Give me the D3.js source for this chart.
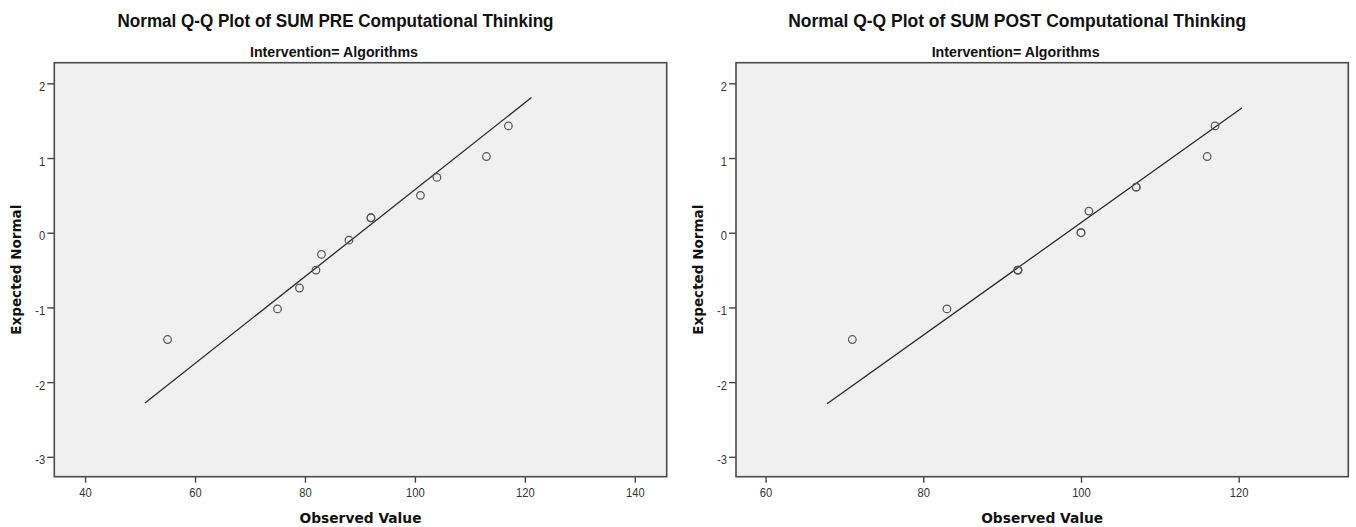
<!DOCTYPE html>
<html>
<head>
<meta charset="utf-8">
<script src="https://cdn.jsdelivr.net/npm/d3@7"></script>
<style>
  html, body { margin: 0; padding: 0; background: #fff; }
  svg { display: block; }
</style>
</head>
<body>
<svg id="chart" width="1356" height="527"></svg>
<script>
// ---- Data ----
const preObserved  = [55, 75, 79, 82, 83, 88, 92, 92, 101, 104, 113, 117];
const preExpected  = [-1.43, -1.02, -0.74, -0.50, -0.29, -0.10, 0.20, 0.20, 0.50, 0.74, 1.02, 1.43];
const postObserved = [71, 83, 92, 92, 92, 100, 100, 101, 107, 107, 116, 117];
const postExpected = [-1.43, -1.02, -0.50, -0.50, -0.50, 0.00, 0.00, 0.29, 0.61, 0.61, 1.02, 1.43];

const preLineX  = [50.9, 121.2];
const preLineY  = [-2.28, 1.81];
const postLineX = [67.8, 120.4];
const postLineY = [-2.29, 1.67];

const preXTicks  = [40, 60, 80, 100, 120, 140];
const postXTicks = [60, 80, 100, 120];
const yTicks     = [-3, -2, -1, 0, 1, 2];

const preXDomain  = [34.4, 145.8];
const postXDomain = [56.25, 133.9];
const yDomain     = [-3.266, 2.276];

const titles    = ["Normal Q-Q Plot of SUM PRE Computational Thinking",
                   "Normal Q-Q Plot of SUM POST Computational Thinking"];
const subtitles = ["Intervention= Algorithms", "Intervention= Algorithms"];
const xLabel = "Observed Value";
const yLabel = "Expected Normal";

// ---- Layout ----
const svg = d3.select("#chart");
const plotTop = 62.7, plotBottom = 476.7;
const panels = [
  { left: 54.3, right: 666.7, obs: preObserved, exp: preExpected, lx: preLineX, ly: preLineY,
    ticks: preXTicks, dom: preXDomain, title: titles[0], sub: subtitles[0], titleW: 436 },
  { left: 736, right: 1348.3, obs: postObserved, exp: postExpected, lx: postLineX, ly: postLineY,
    ticks: postXTicks, dom: postXDomain, title: titles[1], sub: subtitles[1], titleW: 458 }
];

function squeeze(sel, factor) {
  sel.each(function() {
    const n = this.getComputedTextLength();
    d3.select(this).attr("textLength", n * factor).attr("lengthAdjust", "spacingAndGlyphs");
  });
}

const fmt = d => String(d);

panels.forEach(p => {
  const x = d3.scaleLinear().domain(p.dom).range([p.left, p.right]);
  const y = d3.scaleLinear().domain(yDomain).range([plotBottom, plotTop]);
  const cx = (p.left + p.right) / 2;
  const g = svg.append("g");

  // plot background
  g.append("rect")
    .attr("x", p.left).attr("y", plotTop)
    .attr("width", p.right - p.left).attr("height", plotBottom - plotTop)
    .attr("fill", "#f0f0f0");

  // axes
  const xAxis = d3.axisBottom(x).tickValues(p.ticks).tickSize(6).tickPadding(4).tickFormat(fmt);
  const gx = g.append("g").attr("transform", `translate(0,${plotBottom})`).call(xAxis);
  const yAxis = d3.axisLeft(y).tickValues(yTicks).tickSize(7).tickPadding(3).tickFormat(fmt);
  const gy = g.append("g").attr("transform", `translate(${p.left},0)`).call(yAxis);
  [gx, gy].forEach(a => {
    a.select(".domain").remove();
    a.selectAll(".tick line").attr("stroke", "#444").attr("stroke-width", 1.4);
    a.selectAll(".tick text")
      .attr("fill", "#333")
      .style("font-family", "'Liberation Sans', Arial, sans-serif")
      .style("font-size", "13px");
  });
  gx.selectAll(".tick text").attr("dy", null).attr("y", 20);
  gy.selectAll(".tick text").attr("dy", null).attr("y", 7).attr("x", -9);
  squeeze(gx.selectAll(".tick text"), 0.86);
  squeeze(gy.selectAll(".tick text"), 0.86);

  // frame
  g.append("rect")
    .attr("x", p.left).attr("y", plotTop)
    .attr("width", p.right - p.left).attr("height", plotBottom - plotTop)
    .attr("fill", "none").attr("stroke", "#4a4a4a").attr("stroke-width", 1.6);

  // reference line
  g.append("line")
    .attr("x1", x(p.lx[0])).attr("y1", y(p.ly[0]))
    .attr("x2", x(p.lx[1])).attr("y2", y(p.ly[1]))
    .attr("stroke", "#2a2a2a").attr("stroke-width", 1.3);

  // points (tied values drawn on top of each other)
  g.append("g").selectAll("circle")
    .data(p.obs.map((v, i) => [v, p.exp[i]]))
    .join("circle")
    .attr("cx", d => x(d[0])).attr("cy", d => y(d[1]))
    .attr("r", 3.8)
    .attr("fill", "none")
    .attr("stroke", "#555").attr("stroke-width", 1.25);

  // titles
  g.append("text")
    .attr("x", cx - 25).attr("y", 27)
    .attr("text-anchor", "middle")
    .style("font-family", "'Liberation Sans', Arial, sans-serif")
    .style("font-size", "18px").style("font-weight", "bold")
    .attr("fill", "#111")
    .attr("textLength", p.titleW).attr("lengthAdjust", "spacingAndGlyphs")
    .text(p.title);
  g.append("text")
    .attr("x", cx - 26.5).attr("y", 56.7)
    .attr("text-anchor", "middle")
    .style("font-family", "'Liberation Sans', Arial, sans-serif")
    .style("font-size", "14px").style("font-weight", "bold")
    .attr("fill", "#111")
    .attr("textLength", 168).attr("lengthAdjust", "spacingAndGlyphs")
    .text(p.sub);

  // axis titles
  g.append("text")
    .attr("x", cx).attr("y", 523.3)
    .attr("text-anchor", "middle")
    .style("font-family", "'DejaVu Sans', Verdana, sans-serif")
    .style("font-size", "14px").style("font-weight", "bold")
    .attr("fill", "#111")
    .attr("textLength", 122).attr("lengthAdjust", "spacingAndGlyphs")
    .text(xLabel);
  g.append("text")
    .attr("transform", `translate(${p.left - 33.3},${(plotTop + plotBottom) / 2}) rotate(-90)`)
    .attr("text-anchor", "middle")
    .style("font-family", "'DejaVu Sans', Verdana, sans-serif")
    .style("font-size", "13.5px").style("font-weight", "bold")
    .attr("fill", "#111")
    .attr("textLength", 130).attr("lengthAdjust", "spacingAndGlyphs")
    .text(yLabel);
});
</script>
</body>
</html>
